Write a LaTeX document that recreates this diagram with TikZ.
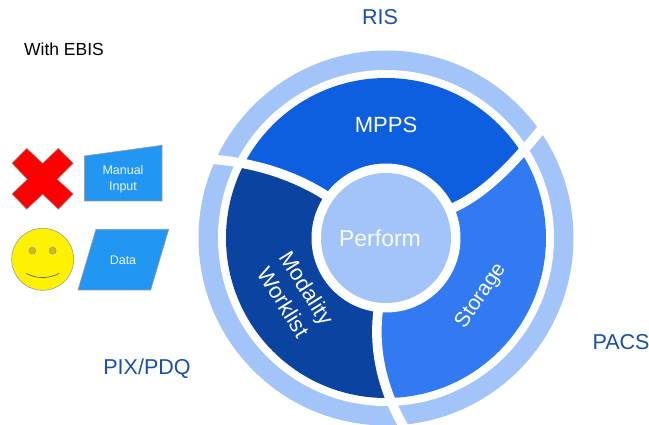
\documentclass[tikz,border=0pt]{standalone}
\usepackage{fontspec}
\setmainfont{Liberation Sans}
\definecolor{ringc}{HTML}{A3C4F8}
\definecolor{mppsc}{HTML}{0D5FDF}
\definecolor{storc}{HTML}{317AF2}
\definecolor{mwlc}{HTML}{0B43A0}
\definecolor{flowc}{HTML}{2196F3}
\definecolor{labc}{HTML}{1A4FA8}
\definecolor{eyec}{HTML}{CDBB1C}
\tikzset{
  sep/.style={draw=white,line width=9.5pt},
  inner/.style={text=white,font=\fontsize{22}{27}\selectfont,align=center,inner sep=0pt},
  lab/.style={text=labc,font=\fontsize{21.5}{24}\selectfont,inner sep=0pt},
  flow/.style={fill=flowc,draw=gray!80,line width=0.6pt},
  flowtxt/.style={text=white!92!flowc,font=\fontsize{12.5}{16}\selectfont,align=center,inner sep=0pt}
}
\begin{document}
\begin{tikzpicture}[x=1pt,y=-1pt]
\useasboundingbox (0,0) rectangle (649,425);
\begin{scope}
\clip (0,0) rectangle (649,425);
\coordinate (c) at (386,238);
% outer ring
\fill[ringc] (c) circle[radius=187.5];
\fill[white] (c) circle[radius=168];
% segments
\begin{scope}
\clip (c) circle[radius=160];
\fill[mppsc] (325,195) .. controls (295,176) and (255,162) .. (217,160) -- (200,50) -- (600,50) -- (544,126) .. controls (515,162) and (487,192) .. (455,207) -- cycle;
\fill[mwlc] (325,195) .. controls (295,176) and (255,162) .. (217,160) -- (180,200) -- (180,425) -- (403,425) .. controls (385,395) and (373,355) .. (378,312) -- cycle;
\fill[storc] (455,207) .. controls (487,192) and (515,162) .. (544,126) -- (649,100) -- (649,425) -- (403,425) .. controls (385,395) and (373,355) .. (378,312) -- cycle;
\end{scope}
% separators
\draw[sep] (445,212) -- (455,207) .. controls (487,192) and (515,162) .. (544,126);
\draw[sep] (379,302) -- (378,312) .. controls (373,355) and (385,395) .. (405,429);
\draw[sep] (334,201) -- (325,195) .. controls (295,176) and (255,162) .. (208,159);
% hub
\fill[white] (c) circle[radius=74.5];
\fill[ringc] (c) circle[radius=65];
\end{scope}
% labels of the wheel
\node[inner] (mpps) at (386,125) {MPPS};
\node[inner,text=white!92!ringc,font=\fontsize{23}{27}\selectfont] (perform) at (380,238) {Perform};
\node[inner,rotate=56,font=\fontsize{21}{27}\selectfont] (storage) at (481,296) {Storage};
\node[inner,rotate=-58] (worklist) at (295.5,295) {Modality\\Worklist};
\node[lab] (ris) at (380,17) {RIS};
\node[lab] (pacs) at (621,342) {PACS};
\node[lab] (pix) at (147,369) {PIX/PDQ};
\node[text=black,font=\fontsize{17.5}{20}\selectfont,inner sep=0pt] (ebis) at (64,49) {With EBIS};
% cross
\draw[fill=red,draw=gray!80,line width=0.5pt] (26.7,148.3) -- (42.7,163.3) -- (58.3,148.3) -- (73.3,163.3) -- (57.3,179.3) -- (73.3,194) -- (58.3,209.3) -- (42.7,194.3) -- (26.7,209.3) -- (12,194) -- (27.3,179.3) -- (12,163.3) -- cycle;
% manual input
\draw[flow] (84.3,156) -- (162,145.3) -- (162,201) -- (84.3,201) -- cycle;
\node[flowtxt] (manual) at (123,179) {Manual\\Input};
% smiley
\draw[fill=yellow,draw=gray!80,line width=0.6pt] (42.7,259.3) circle[radius=31];
\draw[fill=eyec,draw=gray!80,line width=0.5pt] (32.3,250.7) circle[radius=3.5];
\draw[fill=eyec,draw=gray!80,line width=0.5pt] (52.7,250.7) circle[radius=3.5];
\draw[gray!80!black,line width=0.7pt] (26,273.3) .. controls (36,279) and (49,279) .. (59.3,273.3);
% data
\draw[flow] (96,229.3) -- (168.7,229.3) -- (150.7,290) -- (78,290) -- cycle;
\node[flowtxt] (data) at (123,260) {Data};
\end{tikzpicture}
\end{document}
